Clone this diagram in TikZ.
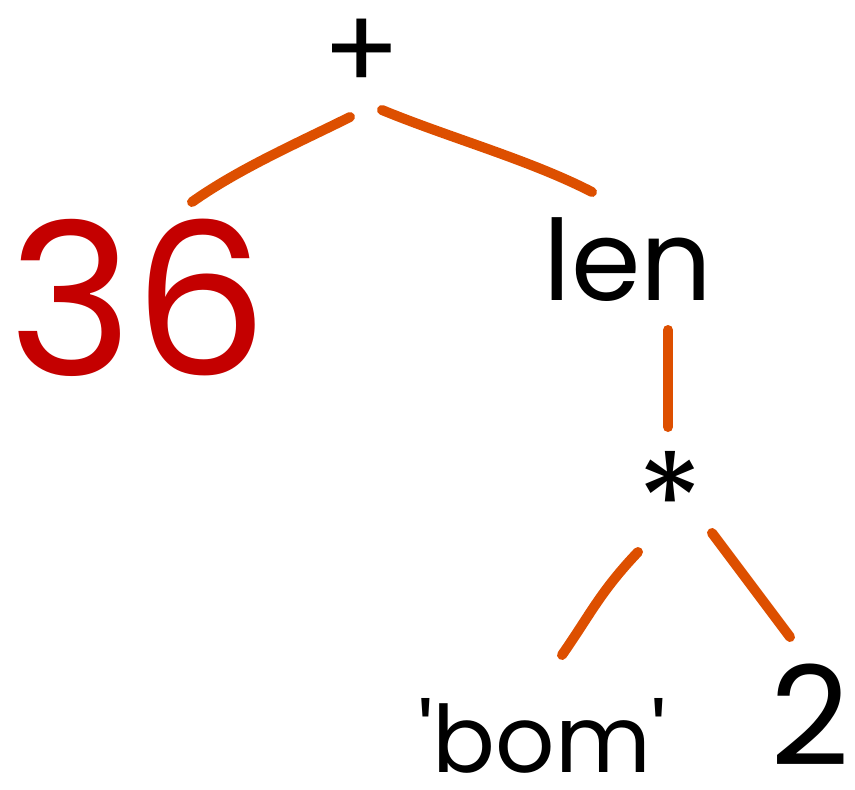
\documentclass[tikz,border=0pt]{standalone}
\usepackage{fontspec}
\setmainfont{Poppins}
\begin{document}
\begin{tikzpicture}[x=1pt,y=-1pt,
  lbl/.style={inner sep=0pt, anchor=base, text=black, font=\fontsize{100}{100}\selectfont},
  num/.style={inner sep=0pt, anchor=base, text=numred, font=\fontsize{212}{212}\selectfont},
  branch/.style={draw=branchorange, line width=10pt, line cap=round}]
  \definecolor{branchorange}{HTML}{DD4F00}
  \definecolor{numred}{HTML}{C40000}
  \useasboundingbox[fill=white] (0,0) rectangle (855,790);

  % tree nodes (placed on their baselines)
  \node[lbl, font=\fontsize{115}{115}\selectfont] (plus) at (362,90) {+};
  \node[num] (n36) at (138,375) {36};
  \node[lbl, font=\fontsize{112}{112}\selectfont] (len) at (628,300) {len};
  \node[lbl, font=\fontsize{135}{135}\selectfont] (star) at (670,550) {*};
  \node[lbl, font=\fontsize{93}{93}\selectfont] (bom) at (542,772) {\textquotesingle bom\textquotesingle};
  \node[lbl, font=\fontsize{138}{138}\selectfont] (two) at (810,765) {2};

  % branch end points
  \coordinate (p1) at (350,117);  \coordinate (q1) at (192,202);
  \coordinate (p2) at (382,110);  \coordinate (q2) at (592,192);
  \coordinate (p3) at (668,330);  \coordinate (q3) at (668,427);
  \coordinate (p4) at (638,552);  \coordinate (q4) at (562,655);
  \coordinate (p5) at (712,533);  \coordinate (q5) at (790,637);

  % branches
  \draw[branch] (p1) .. controls (300,142) and (240,168) .. (q1);
  \draw[branch] (p2) .. controls (450,138) and (530,160) .. (q2);
  \draw[branch] (p3) -- (q3);
  \draw[branch] (p4) .. controls (600,592) and (590,615) .. (q4);
  \draw[branch] (p5) -- (q5);
\end{tikzpicture}
\end{document}
